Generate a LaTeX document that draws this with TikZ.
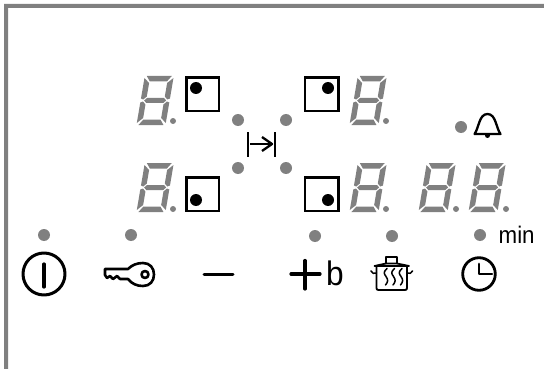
\documentclass[tikz,border=0pt]{standalone}
\usepackage{fontspec}
\setmainfont{Liberation Sans}
\usetikzlibrary{calc}
\definecolor{PanelGray}{RGB}{128,128,128}
\tikzset{led/.style={circle,fill=PanelGray,inner sep=0pt,minimum size=12pt}, point/.style={circle,fill=PanelGray,inner sep=0pt,minimum size=6pt}, zonebox/.style={draw=black,line width=2.2pt,fill=white}, zonedot/.style={circle,fill=black,inner sep=0pt,minimum size=12pt}, sym/.style={draw=black,line width=2.3pt,line cap=round,line join=round}, seg/.style={fill=PanelGray}, lbl/.style={inner sep=0pt,anchor=base west,xscale=0.93,transform shape}}
\newcommand{\segdigit}[2]{%
\begin{scope}[shift={(#1+8.3,#2)},xslant=0.17]
\fill[seg] (1.5,0)--(26.5,0)--(22.5,5.5)--(5.5,5.5)--cycle;
\fill[seg] (5.5,43.5)--(22.5,43.5)--(26.5,49)--(1.5,49)--cycle;
\fill[seg] (5.5,22)--(22.5,22)--(25,24.5)--(22.5,27)--(5.5,27)--(3,24.5)--cycle;
\fill[seg] (-.5,2)--(5,7)--(5,20.5)--(2,23.5)--(-.5,22.5)--cycle;
\fill[seg] (28.5,2)--(23,7)--(23,20.5)--(26,23.5)--(28.5,22.5)--cycle;
\fill[seg] (-.5,26.5)--(2,25.5)--(5,28.5)--(5,42)--(-.5,47)--cycle;
\fill[seg] (28.5,26.5)--(26,25.5)--(23,28.5)--(23,42)--(28.5,47)--cycle;
\end{scope}}

\begin{document}
\begin{tikzpicture}[x=1pt,y=-1pt]
\useasboundingbox (0,0) rectangle (544,369);
% frame
\fill[PanelGray] (4,369)--(4,4)--(544,4)--(544,8)--(8,8)--(8,369)--cycle;
% displays
\segdigit{137}{76}
\segdigit{137}{163}
\segdigit{350}{76}
\segdigit{350}{163}
\segdigit{419}{163}
\segdigit{469}{163}
\node[point] (pa) at (173,121) {};
\node[point] (pb) at (173,209) {};
\node[point] (pc) at (386,121) {};
\node[point] (pd) at (386,209) {};
\node[point] (pe) at (456,209) {};
\node[point] (pf) at (506,209) {};
% cooking zones
\draw[zonebox] (186.5,77.5) rectangle (219,111);
\draw[zonebox] (186.5,177.5) rectangle (219,211);
\draw[zonebox] (305,77.5) rectangle (338.5,111);
\draw[zonebox] (305,177.5) rectangle (338.5,211);
\node[zonedot] (za) at (196,88) {};
\node[zonedot] (zb) at (196,200) {};
\node[zonedot] (zc) at (328,88) {};
\node[zonedot] (zd) at (328,200) {};
% leds
\node[led] (la) at (238,120) {};
\node[led] (lb) at (286,120) {};
\node[led] (lc) at (238,168) {};
\node[led] (ld) at (286,168) {};
\node[led] (le) at (461,127) {};
\node[led] (lf) at (44,235) {};
\node[led] (lg) at (131,235) {};
\node[led] (lh) at (315,236) {};
\node[led] (li) at (392,236) {};
\node[led] (lj) at (480,235) {};
% transfer symbol
\draw[sym,line cap=butt] (248,132)--(248,157);
\draw[sym,line cap=butt] (275,132)--(275,157);
\draw[sym,line cap=butt] (250,144)--(272,144);
\draw[sym,line cap=butt] (262,137)--(272,144)--(262,151);
% bell
\draw[sym] (474.5,134)--(500.5,134) .. controls (496,128) and (496,114) .. (487.5,114) .. controls (479,114) and (479,128) .. (474.5,134)--cycle;
\fill (487.5,135.5) circle (2.5);
% power
\draw[sym,line width=3pt] (44,274) circle (21);
\draw[sym,line width=3.2pt] (44,264)--(44,287);
% key
\draw[sym,line width=2.6pt] (105,269)--(128,269) .. controls (132,265) and (137,263) .. (143,263) .. controls (150,263) and (154,268) .. (154,274.5) .. controls (154,281) and (150,286) .. (143,286) .. controls (137,286) and (132,284) .. (128,279)--(120,279)--(117,276)--(113,279)--(110,276)--(107,278)--(105,275)--cycle;
\draw[sym,line width=2.6pt] (145,274.5) circle (3.5);
% minus and plus
\draw[sym,line width=3pt] (204,274)--(233,274);
\draw[sym,line width=3.2pt] (291,274)--(320,274);
\draw[sym,line width=3.2pt] (305,260.5)--(305,289);
\node[lbl,font=\fontsize{34}{34}\selectfont] (plustext) at (326,285.5) {b};
% pot
\draw[sym,line width=1.8pt] (374.5,266)--(386,263.5)--(397,263.5)--(409,266)--cycle;
\draw[sym,line width=1.8pt] (386,263.5)--(386,257)--(397,257)--(397,263.5);
\draw[sym,line width=1.8pt] (376.5,266)--(376.5,288) .. controls (376.5,289.5) and (377,290) .. (378.5,290)--(405,290) .. controls (406.5,290) and (407,289.5) .. (407,288)--(407,266);
\draw[sym,line width=1.5pt] (371,271) .. controls (372,273.5) and (374,274) .. (376.5,273);
\draw[sym,line width=1.5pt] (412.5,271) .. controls (411.5,273.5) and (409.5,274) .. (407,273);
\foreach \wx in {387,394.5,402}{
\draw[sym,line width=1.5pt] (\wx,268.5) .. controls (\wx-3.5,272) and (\wx-3.5,273) .. (\wx-1,276.5) .. controls (\wx+1.5,280) and (\wx+1,282) .. (\wx-1.5,285);
}
% timer
\draw[sym,line width=2.8pt] (479,274) circle (16.3);
\draw[sym,line width=2.8pt] (479,264)--(479,274)--(492,274);
\node[lbl,font=\fontsize{24}{24}\selectfont] (mintext) at (498.5,243) {min};
\end{tikzpicture}
\end{document}
